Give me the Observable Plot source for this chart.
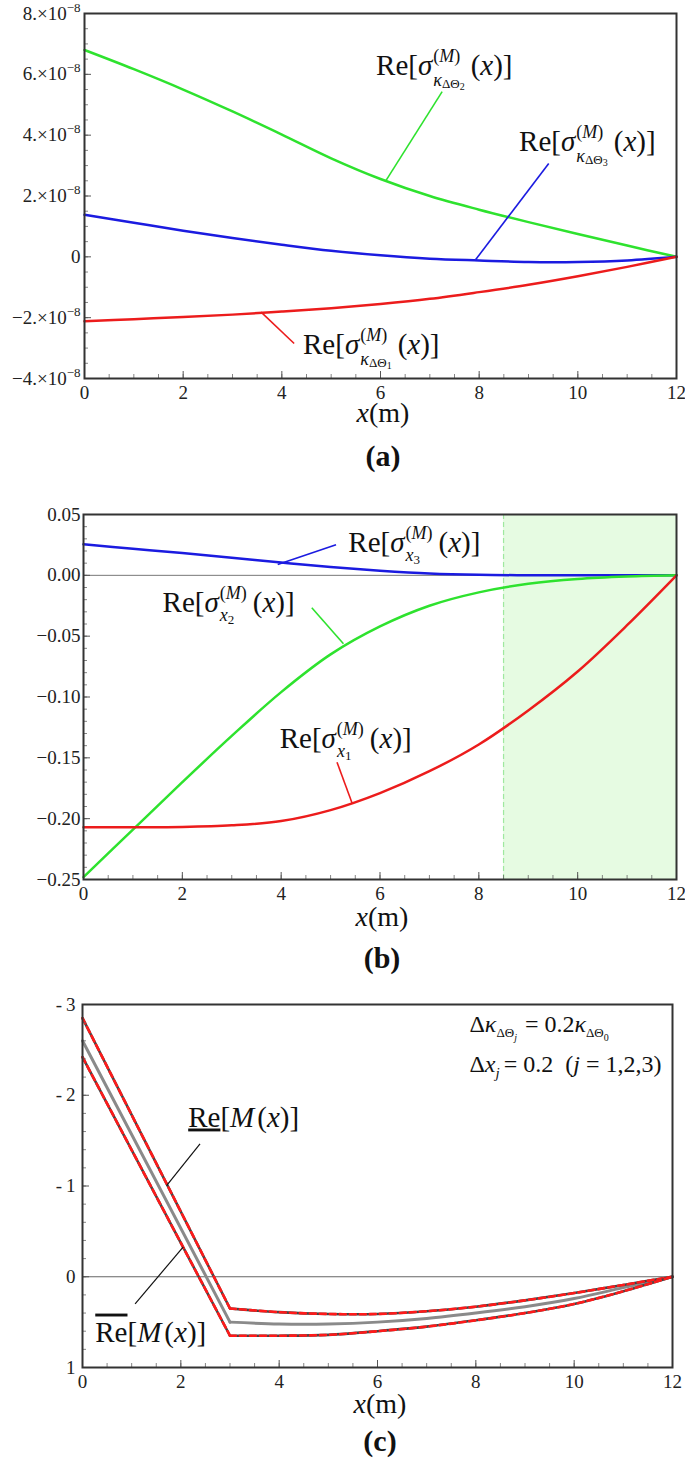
<!DOCTYPE html>
<html><head><meta charset="utf-8">
<script src="https://cdn.jsdelivr.net/npm/d3@7"></script>
<script src="https://cdn.jsdelivr.net/npm/@observablehq/plot@0.6"></script>
<style>
body{margin:0;background:#fff;}
#root{width:685px;}
#root svg{display:block;}
</style></head><body><div id="root"></div>
<script>
// ---------- data ----------
const xs = [0,1,2,3,4,5,6,7,8,9,10,11,12];
// panel (a)
const aRed   = [-2.12e-8,-2.05e-8,-1.98e-8,-1.90e-8,-1.80e-8,-1.69e-8,-1.55e-8,-1.38e-8,-1.16e-8,-0.92e-8,-0.64e-8,-0.33e-8,0];
const aGreen = [6.8e-8,6.17e-8,5.50e-8,4.78e-8,4.02e-8,3.24e-8,2.56e-8,2.00e-8,1.55e-8,1.14e-8,0.75e-8,0.37e-8,0];
const aBlue  = [1.38e-8,1.12e-8,0.86e-8,0.62e-8,0.40e-8,0.20e-8,0.05e-8,-0.06e-8,-0.12e-8,-0.17e-8,-0.17e-8,-0.12e-8,0];
// panel (b)
const bRed   = [-0.207,-0.207,-0.2068,-0.2055,-0.202,-0.193,-0.179,-0.161,-0.139,-0.111,-0.079,-0.041,0];
const bGreen = [-0.248,-0.209,-0.170,-0.132,-0.096,-0.065,-0.042,-0.025,-0.014,-0.007,-0.003,-0.001,0];
const bBlue  = [0.0255,0.0219,0.0183,0.0145,0.0105,0.0068,0.0038,0.0015,0.0004,0.0001,0,0,0];
const bShade = [{x1: 8.5, x2: 12}];
// panel (c)
const cX    = [0,3,4,5,6,7,8,9,10,11,12];
const cMid  = [-2.60,0.50,0.52,0.52,0.50,0.46,0.40,0.33,0.24,0.12,0];
const cLow  = [-2.85,0.35,0.39,0.41,0.41,0.38,0.33,0.26,0.18,0.09,0];
const cUp   = [-2.42,0.65,0.65,0.64,0.60,0.55,0.48,0.40,0.30,0.16,0];
// ticks
const xTicks = [0,2,4,6,8,10,12];
const xMinor = d3.range(0, 12.01, 0.5);
const aYTicks = [-4e-8,-2e-8,0,2e-8,4e-8,6e-8,8e-8];
const aYMinor = d3.range(-4, 8.01, 0.5).map(v => v*1e-8);
const bYTicks = [-0.25,-0.2,-0.15,-0.1,-0.05,0,0.05];
const bYMinor = d3.range(-25, 5.01, 1).map(v => v/100);
const cYTicks = [-3,-2,-1,0,1];
const cYMinor = d3.range(-15, 5.01, 1).map(v => v/5);
// annotation anchors (data coords)
const aLeaders = [
  {x1:7.25,y1:5.43e-8,x2:6.10,y2:2.48e-8,c:"g"},
  {x1:9.41,y1:3.07e-8,x2:7.93,y2:-0.09e-8,c:"b"},
  {x1:4.25,y1:-2.85e-8,x2:3.58,y2:-1.82e-8,c:"r"}
];
const bLeaders = [
  {x1:5.11,y1:0.0251,x2:3.93,y2:0.0089,c:"b"},
  {x1:4.62,y1:-0.0267,x2:5.26,y2:-0.0563,c:"g"},
  {x1:5.13,y1:-0.1536,x2:5.44,y2:-0.1878,c:"r"}
];
const cLeaders = [
  {x1:2.39,y1:-1.465,x2:1.71,y2:-1.005},
  {x1:1.07,y1:0.30,x2:2.05,y2:-0.33}
];

// ---------- style ----------
const FONT = '"Liberation Serif","Times New Roman","DejaVu Serif",serif';
const COL = {r:"#ec1c1c", g:"#2ee22e", b:"#1b1be0"};
const root = document.getElementById("root");

const rows = (X, Y) => X.map((x,i) => ({x, y: Y[i]}));
function segRows(X, Y) { // split at the kink x=3
  const out = [];
  X.forEach((x,i) => { if (i <= 1) out.push({x, y:Y[i], s:"a"}); if (i >= 1) out.push({x, y:Y[i], s:"b"}); });
  return out;
}

function panel(o) {
  const fh = o.height - o.mt - o.mb, fw = 685 - o.ml - o.mr;
  const svg = Plot.plot({
    width: 685, height: o.height,
    marginTop: o.mt, marginBottom: o.mb, marginLeft: o.ml, marginRight: o.mr,
    style: {fontFamily: FONT, fontSize: "19px", color: "#222", background: "white", overflow: "visible"},
    x: {domain: [0, 12]},
    y: {domain: o.yDomain, reverse: !!o.yReverse},
    marks: [
      ...o.marks,
      Plot.tickX(xMinor, {x: d => d, insetTop: fh - 4, stroke: "#666", strokeWidth: 0.8}),
      Plot.tickX(xTicks, {x: d => d, insetTop: fh - 7, stroke: "#555", strokeWidth: 1}),
      Plot.tickY(o.yMinor, {y: d => d, insetRight: fw - 4, stroke: "#666", strokeWidth: 0.8}),
      Plot.tickY(o.yTicks, {y: d => d, insetRight: fw - 7, stroke: "#555", strokeWidth: 1}),
      Plot.axisX({ticks: xTicks, tickSize: 0, tickPadding: 7, label: null, tickFormat: d => String(d),
                  fontFamily: FONT, fontSize: 19, fill: "#222"}),
      Plot.axisY({ticks: o.yTicks, tickSize: 0, tickPadding: o.ypad, label: null, tickFormat: o.yFmt,
                  fontFamily: FONT, fontSize: 19, fill: "#222"}),
      Plot.frame({stroke: "#333", strokeWidth: 2})
    ]
  });
  // make sure the tick labels use the serif face at the reference size
  d3.select(svg).selectAll('g[aria-label$="tick label"], g[aria-label$="tick label"] text')
    .style("font-family", FONT).style("font-size", "19px");
  root.appendChild(svg);
  return svg;
}

// math text: one <text>, tspans flow; stacked scripts back-track by an estimated width
const EM = {"(":0.333,")":0.333,"M":0.833,"κ":0.55,"Δ":0.612,"Θ":0.722,"x":0.444,"j":0.278};
const estW = seq => d3.sum(seq, r => d3.sum([...r.t], ch => EM[ch] ?? 0.5) * r.s);
function mtext(svg, x, y, runs, anchor = "start") {
  const t = d3.select(svg).append("text").attr("x", x).attr("y", y)
    .attr("font-family", FONT).attr("fill", "#111").attr("text-anchor", anchor)
    .style("white-space", "pre");
  let cur = 0, pend = 0;
  const emit = r => {
    const off = r.dy || 0;
    const ts = t.append("tspan").attr("font-size", r.s).attr("dy", off - cur).text(r.t);
    cur = off;
    if (pend) ts.attr("dx", pend);
    pend = r.gap || 0;
    if (r.i) ts.attr("font-style", "italic");
    if (r.b) ts.attr("font-weight", "bold");
    if (r.dec) ts.attr("text-decoration", r.dec);
  };
  for (const r of runs) {
    if (r.stack) {
      const [a, b] = r.stack, wa = estW(a), wb = estW(b);
      a.forEach(emit); pend = -wa; b.forEach(emit);
      pend = Math.max(0, wa - wb) + (r.gap || 0);
    } else emit(r);
  }
  return t;
}
const S = 29, S2 = 18, S3 = 13, S4 = 10, SUP = 13, SUB = 11;
const supM = () => [{t:"(", s:S2, dy:-SUP}, {t:"M", s:S2, i:true, dy:-SUP}, {t:")", s:S2, dy:-SUP}];
const tail = () => [{t:"(", s:S}, {t:"x", s:S, i:true}, {t:")]", s:S}];
const sigKappa = n => [
  {t:"Re[", s:S}, {t:"σ", s:S, i:true, gap:1},
  {stack:[supM(), [{t:"κ", s:S2, i:true, dy:SUB}, {t:"ΔΘ", s:S3, dy:SUB+2}, {t:String(n), s:S4, dy:SUB+4}]], gap:6},
  ...tail()];
const sigX = n => [
  {t:"Re[", s:S}, {t:"σ", s:S, i:true, gap:1},
  {stack:[supM(), [{t:"x", s:S2, i:true, dy:SUB-2}, {t:String(n), s:S3, dy:SUB+1}]], gap:6},
  ...tail()];
const reM = dec => [{t:"Re", s:S, dec}, {t:"[", s:S}, {t:"M", s:S, i:true, gap:3}, ...tail()];

function captions(svg, cx, yLab, yCap, cap) {
  mtext(svg, cx, yLab, [{t:"x", s:28, i:true}, {t:"(m)", s:28}], "middle");
  mtext(svg, cx, yCap, [{t:cap, s:30, b:true}], "middle");
}

// ---------- panel (a) ----------
const fmtA = v => v === 0 ? "0" : `${v < 0 ? "−" : ""}${Math.round(Math.abs(v)/1e-8)}.×10`;
const svgA = panel({
  height: 475, mt: 13, mb: 97, ml: 84, mr: 9, ypad: 4,
  yDomain: [-4e-8, 8e-8], yTicks: aYTicks, yMinor: aYMinor, yFmt: fmtA,
  marks: [
    Plot.line(rows(xs, aGreen), {x:"x", y:"y", stroke: COL.g, strokeWidth: 2.5, curve: "catmull-rom"}),
    Plot.line(rows(xs, aBlue), {x:"x", y:"y", stroke: COL.b, strokeWidth: 2.5, curve: "catmull-rom"}),
    Plot.line(rows(xs, aRed), {x:"x", y:"y", stroke: COL.r, strokeWidth: 2.5, curve: "catmull-rom"}),
    Plot.link(aLeaders, {x1:"x1", y1:"y1", x2:"x2", y2:"y2", stroke: d => COL[d.c], strokeWidth: 1.6})
  ]
});
// exponent of the y tick labels as a real superscript
d3.select(svgA).selectAll('[aria-label="y-axis tick label"] text').each(function () {
  if (this.textContent.includes("×")) d3.select(this).append("tspan").attr("dy", -8).style("font-size", "13px").text("−8");
});
{
  const X = svgA.scale("x"), Y = svgA.scale("y");
  mtext(svgA, X.apply(5.92), Y.apply(5.96e-8), sigKappa(2));
  mtext(svgA, X.apply(8.82), Y.apply(3.46e-8), sigKappa(3));
  mtext(svgA, X.apply(4.44), Y.apply(-3.21e-8), sigKappa(1));
  captions(svgA, 383, 422, 466, "(a)");
}

// ---------- panel (b) ----------
const svgB = panel({
  height: 500, mt: 39, mb: 96, ml: 83, mr: 9, ypad: 3,
  yDomain: [-0.25, 0.05], yTicks: bYTicks, yMinor: bYMinor, yFmt: d3.format(".2f"),
  marks: [
    Plot.rect(bShade, {x1:"x1", x2:"x2", fill: "#e6fbe2"}),
    Plot.ruleX([8.5], {stroke: "#9fe89f", strokeWidth: 1.2, strokeDasharray: "5,3"}),
    Plot.ruleY([0], {stroke: "#777", strokeWidth: 1}),
    Plot.line(rows(xs, bBlue), {x:"x", y:"y", stroke: COL.b, strokeWidth: 2.5, curve: "catmull-rom"}),
    Plot.line(rows(xs, bGreen), {x:"x", y:"y", stroke: COL.g, strokeWidth: 2.5, curve: "catmull-rom"}),
    Plot.line(rows(xs, bRed), {x:"x", y:"y", stroke: COL.r, strokeWidth: 2.5, curve: "catmull-rom"}),
    Plot.link(bLeaders, {x1:"x1", y1:"y1", x2:"x2", y2:"y2", stroke: d => COL[d.c], strokeWidth: 1.6})
  ]
});
{
  const X = svgB.scale("x"), Y = svgB.scale("y");
  mtext(svgB, X.apply(5.37), Y.apply(0.019), sigX(3));
  mtext(svgB, X.apply(1.61), Y.apply(-0.0303), sigX(2));
  mtext(svgB, X.apply(3.98), Y.apply(-0.1424), sigX(1));
  captions(svgB, 382, 451, 493, "(b)");
}

// ---------- panel (c) ----------
const fmtC = d => d < 0 ? "-\u2009" + (-d) : String(d);
const svgC = panel({
  height: 486, mt: 29, mb: 94, ml: 82, mr: 13, ypad: 7,
  yDomain: [-3, 1], yReverse: true, yTicks: cYTicks, yMinor: cYMinor, yFmt: fmtC,
  marks: [
    Plot.ruleY([0], {stroke: "#666", strokeWidth: 1}),
    Plot.line(segRows(cX, cMid), {x:"x", y:"y", z:"s", stroke: "#8a8a8a", strokeWidth: 3, curve: "catmull-rom"}),
    Plot.line(segRows(cX, cLow), {x:"x", y:"y", z:"s", stroke: "#444", strokeWidth: 2.6, curve: "catmull-rom"}),
    Plot.line(segRows(cX, cLow), {x:"x", y:"y", z:"s", stroke: "#ff1a1a", strokeWidth: 2.6, strokeDasharray: "6,4", curve: "catmull-rom"}),
    Plot.line(segRows(cX, cUp), {x:"x", y:"y", z:"s", stroke: "#444", strokeWidth: 2.6, curve: "catmull-rom"}),
    Plot.line(segRows(cX, cUp), {x:"x", y:"y", z:"s", stroke: "#ff1a1a", strokeWidth: 2.6, strokeDasharray: "6,4", curve: "catmull-rom"}),
    Plot.link(cLeaders, {x1:"x1", y1:"y1", x2:"x2", y2:"y2", stroke: "#111", strokeWidth: 1.2})
  ]
});
{
  const X = svgC.scale("x"), Y = svgC.scale("y");
  mtext(svgC, X.apply(2.16), Y.apply(-1.65), reM("underline"));
  mtext(svgC, X.apply(0.27), Y.apply(0.72), reM("overline"));
  const A = 24;
  mtext(svgC, X.apply(7.88), Y.apply(-2.69), [
    {t:"Δ", s:A}, {t:"κ", s:A, i:true}, {t:"ΔΘ", s:13, dy:5}, {t:"j", s:10, i:true, dy:9, gap:8},
    {t:"= 0.2", s:A}, {t:"κ", s:A, i:true}, {t:"ΔΘ", s:13, dy:5}, {t:"0", s:10, dy:9}
  ]);
  mtext(svgC, X.apply(7.88), Y.apply(-2.25), [
    {t:"Δ", s:A}, {t:"x", s:A, i:true}, {t:"j", s:15, i:true, dy:6, gap:4},
    {t:"= 0.2\u00a0\u00a0(", s:A}, {t:"j", s:A, i:true}, {t:"\u00a0=\u00a01,2,3)", s:A}
  ]);
  captions(svgC, 380, 438, 476, "(c)");
}
</script></body></html>
